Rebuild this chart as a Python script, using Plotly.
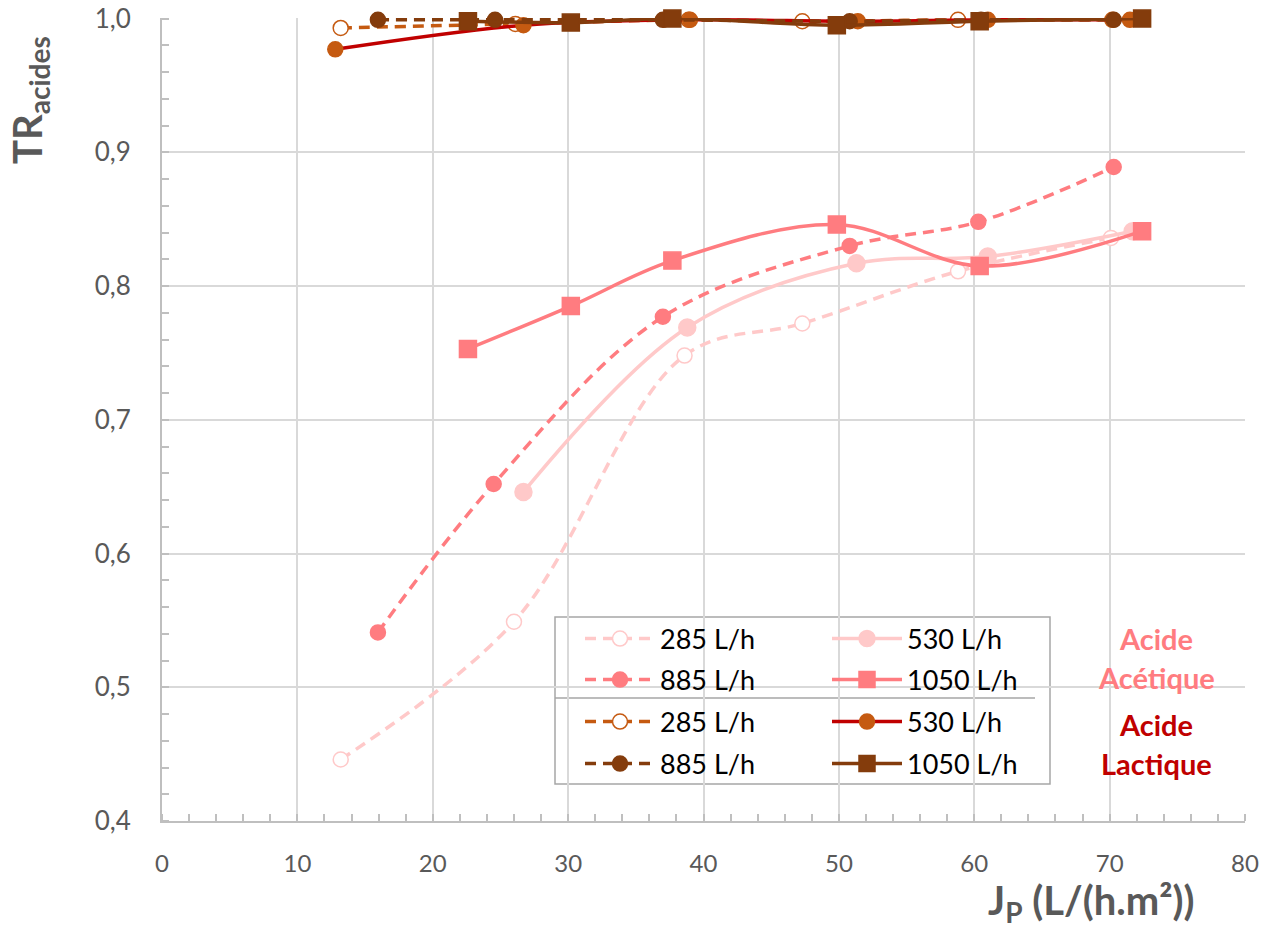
import plotly.graph_objects as go

# ---------------- data ----------------
# Acide acétique
x_ac_285 = [13.2, 26.0, 38.6, 47.3, 58.8, 70.1]
y_ac_285 = [0.446, 0.549, 0.748, 0.772, 0.811, 0.836]
x_ac_530 = [26.7, 38.8, 51.3, 61.0, 71.7]
y_ac_530 = [0.646, 0.769, 0.817, 0.822, 0.841]
x_ac_885 = [15.95, 24.5, 37.0, 50.8, 60.3, 70.3]
y_ac_885 = [0.541, 0.652, 0.777, 0.830, 0.848, 0.889]
x_ac_1050 = [22.6, 30.2, 37.7, 49.85, 60.4, 72.4]
y_ac_1050 = [0.753, 0.785, 0.819, 0.846, 0.815, 0.841]
# Acide lactique
x_la_285 = [13.2, 26.1, 38.9, 47.3, 58.8, 70.2]
y_la_285 = [0.993, 0.996, 0.999, 0.998, 0.999, 0.999]
x_la_530 = [12.8, 26.7, 39.0, 51.4, 61.0, 71.5]
y_la_530 = [0.977, 0.995, 0.999, 0.998, 0.999, 0.999]
x_la_885 = [15.95, 24.6, 37.0, 50.8, 60.5, 70.3]
y_la_885 = [0.999, 0.999, 0.999, 0.998, 0.999, 0.999]
x_la_1050 = [22.6, 30.2, 37.7, 49.85, 60.4, 72.4]
y_la_1050 = [0.998, 0.997, 1.000, 0.995, 0.998, 1.000]

labels = ["285 L/h", "530 L/h", "885 L/h", "1050 L/h"]
x_ticks = [0, 10, 20, 30, 40, 50, 60, 70, 80]
y_ticks = [0.4, 0.5, 0.6, 0.7, 0.8, 0.9, 1.0]
y_tick_labels = ["0,4", "0,5", "0,6", "0,7", "0,8", "0,9", "1,0"]

# ---------------- style ----------------
FONT = "Lato"
C_LIGHT = "#FFC9C9"
C_MID = "#FF7C80"
C_ORANGE = "#C55A11"
C_RED = "#C00000"
C_BROWN = "#843C0C"
GRID = "#D9D9D9"
AXIS = "#BFBFBF"
TXT = "#595959"
DASH = "11px,7px"
LW = 3.5

# page offset (browser body margin) and plot area in page pixels
OFF = 8
W, H = 1268 - OFF, 929 - OFF
L, R, T, B = 162 - OFF, 1245 - OFF, 18 - OFF, 821 - OFF


def px(xp):
    """page x pixel -> paper fraction"""
    return (xp - OFF - L) / (R - L)


def py(yp):
    """page y pixel -> paper fraction"""
    return (B - (yp - OFF)) / (B - T)


fig = go.Figure()

series = [
    # x, y, name, line color, dash, marker symbol, marker fill, marker line, size, legend
    (x_ac_285, y_ac_285, labels[0], C_LIGHT, DASH, "circle", "white", C_LIGHT, 15, "legend"),
    (x_ac_530, y_ac_530, labels[1], C_LIGHT, "solid", "circle", C_LIGHT, C_LIGHT, 17, "legend2"),
    (x_ac_885, y_ac_885, labels[2], C_MID, DASH, "circle", C_MID, C_MID, 15, "legend3"),
    (x_ac_1050, y_ac_1050, labels[3], C_MID, "solid", "square", C_MID, C_MID, 17, "legend4"),
    (x_la_285, y_la_285, labels[0], C_ORANGE, DASH, "circle", "white", C_ORANGE, 15, "legend5"),
    (x_la_530, y_la_530, labels[1], C_RED, "solid", "circle", C_ORANGE, C_ORANGE, 15, "legend6"),
    (x_la_885, y_la_885, labels[2], C_BROWN, DASH, "circle", C_BROWN, C_BROWN, 15, "legend7"),
    (x_la_1050, y_la_1050, labels[3], C_BROWN, "solid", "square", C_BROWN, C_BROWN, 17, "legend8"),
]

for xs, ys, name, lc, dash, sym, mfill, mline, size, leg in series:
    fig.add_trace(go.Scatter(
        x=xs, y=ys, name=name, mode="lines+markers",
        line=dict(color=lc, width=LW, dash=dash, shape="spline", smoothing=1.0),
        marker=dict(symbol=sym, color=mfill, size=size,
                    line=dict(color=mline, width=1.5)),
        cliponaxis=False, legend=leg,
    ))

# legend positions: (column left px, row center px) in page pixels
col_x = [580, 827]
row_y = [639, 680, 722, 764]
leg_pos = {
    "legend": (col_x[0], row_y[0]),
    "legend2": (col_x[1], row_y[0]),
    "legend3": (col_x[0], row_y[1]),
    "legend4": (col_x[1], row_y[1]),
    "legend5": (col_x[0], row_y[2]),
    "legend6": (col_x[1], row_y[2]),
    "legend7": (col_x[0], row_y[3]),
    "legend8": (col_x[1], row_y[3]),
}
leg_layout = {}
for k, (lx, ly) in leg_pos.items():
    leg_layout[k] = dict(
        x=px(lx), y=py(ly), xanchor="left", yanchor="middle",
        bgcolor="rgba(0,0,0,0)", borderwidth=0, itemwidth=70,
        font=dict(family=FONT, size=27, color="black"),
        itemclick=False, itemdoubleclick=False,
    )

fig.update_layout(
    width=W, height=H,
    margin=dict(l=L, r=W - R, t=T, b=H - B, autoexpand=False),
    paper_bgcolor="white", plot_bgcolor="white",
    font=dict(family=FONT, color=TXT),
    showlegend=True,
    **leg_layout,
)

fig.update_xaxes(
    range=[0, 80], tickvals=x_ticks, ticktext=[str(v) for v in x_ticks],
    showgrid=True, gridcolor=GRID, gridwidth=1.5,
    showline=True, linecolor=AXIS, linewidth=2,
    ticks="", ticklabelstandoff=20, automargin=False, ticklabeloverflow="allow",
    tickfont=dict(family=FONT, size=24, color=TXT),
    minor=dict(dtick=2, ticks="inside", ticklen=7, tickcolor=AXIS, tickwidth=1.5, showgrid=False),
    zeroline=False,
)
fig.update_yaxes(
    range=[0.4, 1.0004], tickvals=y_ticks, ticktext=y_tick_labels,
    showgrid=True, gridcolor=GRID, gridwidth=1.5,
    showline=True, linecolor=AXIS, linewidth=2,
    ticks="", ticklabelstandoff=24, automargin=False, ticklabeloverflow="allow",
    tickfont=dict(family=FONT, size=26, color=TXT),
    minor=dict(dtick=0.02, tick0=0.4, ticks="inside", ticklen=7, tickcolor=AXIS, tickwidth=1.5, showgrid=False),
    zeroline=False,
)

# legend frame and separator
fig.add_shape(type="rect", xref="paper", yref="paper",
              x0=px(555), x1=px(1050), y0=py(784), y1=py(617),
              line=dict(color="#A6A6A6", width=1.5), fillcolor="white", layer="between")
fig.add_shape(type="line", xref="paper", yref="paper",
              x0=px(555), x1=px(1035), y0=py(698), y1=py(698),
              line=dict(color="#A6A6A6", width=1.5), layer="between")

# side labels
for text, color, yc in [("Acide", C_MID, 638), ("Acétique", C_MID, 677),
                        ("Acide", C_RED, 724), ("Lactique", C_RED, 763)]:
    fig.add_annotation(text=f"<b>{text}</b>", xref="paper", yref="paper",
                       x=px(1156), y=py(yc), xanchor="center", yanchor="middle",
                       showarrow=False, font=dict(family=FONT, size=29, color=color))

# axis titles
fig.add_annotation(text="<b>TR<sub>acides</sub></b>", xref="paper", yref="paper",
                   x=px(30), y=py(100), xanchor="center", yanchor="middle", textangle=-90,
                   showarrow=False, font=dict(family=FONT, size=40, color=TXT))
fig.add_annotation(text="<b>J<sub>P</sub> (L/(h.m²))</b>", xref="paper", yref="paper",
                   x=px(1091), y=py(902), xanchor="center", yanchor="middle",
                   showarrow=False, font=dict(family=FONT, size=40, color=TXT))

fig.write_html("out.html")
